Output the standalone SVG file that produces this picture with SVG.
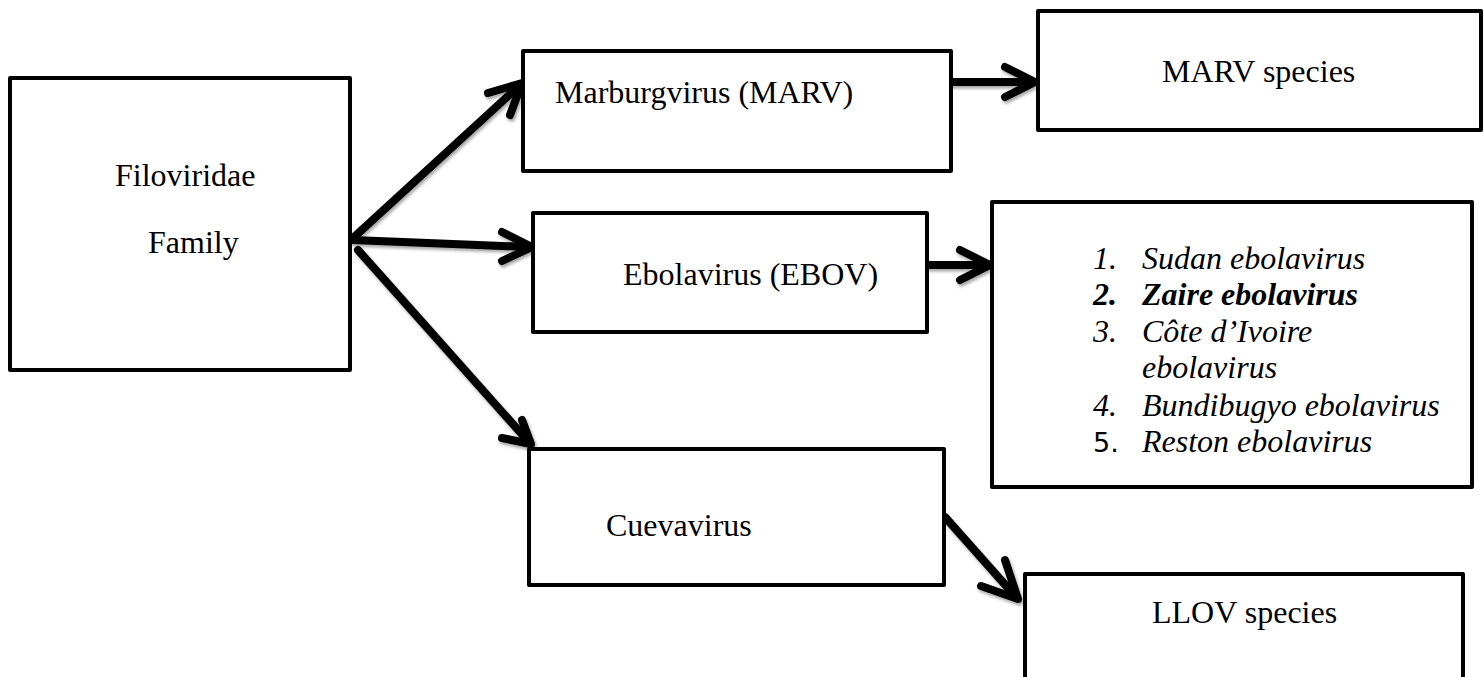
<svg xmlns="http://www.w3.org/2000/svg" width="1484" height="677" viewBox="0 0 1484 677">
  <defs>
    <filter id="shadow" x="-20%" y="-20%" width="140%" height="140%">
      <feDropShadow dx="1.5" dy="2.5" stdDeviation="1.5" flood-color="#000" flood-opacity="0.35"/>
    </filter>
  </defs>
  <style>
    .box { fill: #fff; stroke: #000; stroke-width: 4; stroke-linejoin: round; }
    .t { font-family: "Liberation Serif", "Times New Roman", serif; font-size: 32px; fill: #000; }
    .it { font-style: italic; }
    .bi { font-style: italic; font-weight: bold; }
    .sans { font-family: "DejaVu Sans", "Liberation Sans", sans-serif; font-size: 27px; }
    .conn { fill: none; stroke: #000; stroke-width: 8; stroke-linecap: round; stroke-linejoin: round; }
  </style>
  <rect width="1484" height="677" fill="#fff"/>

  <g id="connectors" filter="url(#shadow)">
    <path class="conn" d="M353,238 L520,85"/>
    <path class="conn" d="M488,93 L522,83 L510,115"/>
    <path class="conn" d="M353,240 L530,247"/>
    <path class="conn" d="M502,232 L532,247 L502,261"/>
    <path class="conn" d="M358,250 L528,441"/>
    <path class="conn" d="M522,420 L531,444 L502,438"/>
    <path class="conn" d="M951,82 L1033,82"/>
    <path class="conn" d="M1005,67 L1035,82 L1005,97"/>
    <path class="conn" d="M927,265 L988,265"/>
    <path class="conn" d="M960,250 L990,265 L960,280"/>
    <path class="conn" d="M945,517 L1016,597"/>
    <path class="conn" d="M1005,560 L1018,599 L981,586"/>
  </g>

  <g id="node-filoviridae">
    <rect class="box" x="10" y="78" width="340" height="292"/>
    <text class="t" x="115" y="186">Filoviridae</text>
    <text class="t" x="148" y="253">Family</text>
  </g>

  <g id="node-marburgvirus">
    <rect class="box" x="523" y="51" width="428" height="120"/>
    <text class="t" x="555" y="103">Marburgvirus (MARV)</text>
  </g>

  <g id="node-ebolavirus">
    <rect class="box" x="533" y="213" width="394" height="119"/>
    <text class="t" x="623" y="285">Ebolavirus (EBOV)</text>
  </g>

  <g id="node-cuevavirus">
    <rect class="box" x="529" y="449" width="415" height="136"/>
    <text class="t" x="606" y="536">Cuevavirus</text>
  </g>

  <g id="node-marv-species">
    <rect class="box" x="1038" y="11" width="443" height="119"/>
    <text class="t" x="1162" y="82">MARV species</text>
  </g>

  <g id="node-ebov-species">
    <rect class="box" x="992" y="202" width="480" height="285"/>
    <text class="t it" x="1093" y="269">1.</text>
    <text class="t it" x="1142" y="269">Sudan ebolavirus</text>
    <text class="t bi" x="1093" y="305">2.</text>
    <text class="t bi" x="1142" y="305">Zaire ebolavirus</text>
    <text class="t it" x="1093" y="342">3.</text>
    <text class="t it" x="1142" y="342">Côte d’Ivoire</text>
    <text class="t it" x="1142" y="378">ebolavirus</text>
    <text class="t it" x="1093" y="416">4.</text>
    <text class="t it" x="1142" y="416">Bundibugyo ebolavirus</text>
    <text class="sans" x="1093" y="452">5.</text>
    <text class="t it" x="1142" y="452">Reston ebolavirus</text>
  </g>

  <g id="node-llov-species">
    <rect class="box" x="1025" y="574" width="438" height="130"/>
    <text class="t" x="1152" y="623">LLOV species</text>
  </g>
</svg>
